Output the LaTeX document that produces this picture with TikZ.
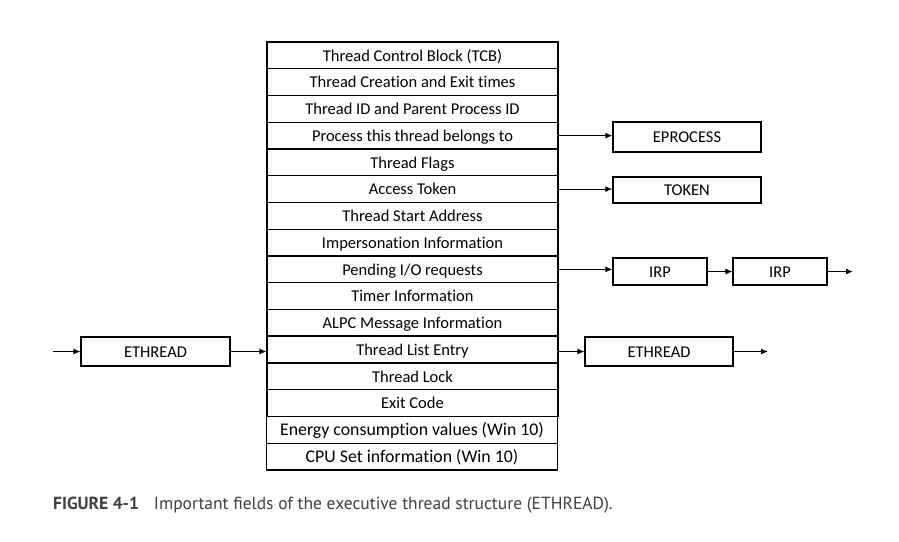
\documentclass[tikz,border=0pt]{standalone}
\usepackage{fontspec}
\setmainfont{Carlito}[Ligatures={NoCommon}]
\newfontfamily\capfont{PT Sans}
\usetikzlibrary{positioning, arrows.meta}

\tikzset{
  field/.style={draw, line width=1.1pt, minimum width=291pt, minimum height=26.75pt, inner sep=0pt,
    text height=11.5pt, text depth=0pt, font=\fontsize{16.5}{18}\selectfont},
  newfield/.style={field, text height=12.2pt, font=\fontsize{17.8}{20}\selectfont},
  obj/.style={draw, line width=1.1pt, inner sep=0pt, text height=11.5pt, text depth=0pt,
    font=\fontsize{16.5}{18}\selectfont},
  ptr/.style={line width=1.1pt, -{Latex[length=7pt,width=6pt]}}
}

\begin{document}
\begin{tikzpicture}[x=1pt, y=-1pt]
\useasboundingbox (0,0) rectangle (899,541);
% ETHREAD fields
\foreach \t [count=\i] in {Thread Control Block (TCB), Thread Creation and Exit times,
  Thread ID and Parent Process ID, Process this thread belongs to, Thread Flags,
  Access Token, Thread Start Address, Impersonation Information, Pending I/O requests,
  Timer Information, ALPC Message Information, Thread List Entry, Thread Lock, Exit Code}
  \node[field] (f\i) at (412.5,{42+26.75*(\i-0.5)}) {\t};
% Win 10 additions
\node[newfield] (f15) at (412,{42+26.75*14.5}) {Energy consumption values (Win 10)};
\node[newfield] (f16) at (412,{42+26.75*15.5}) {CPU Set information (Win 10)};
\draw[line width=2pt] (f12.north west) -- (f12.north east);
% pointed-to objects
\node[obj, minimum width=148pt, minimum height=30pt] (eproc) at (687,137) {EPROCESS};
\node[obj, minimum width=148pt, minimum height=26pt] (token) at (687,190) {TOKEN};
\node[obj, minimum width=94pt, minimum height=27pt] (irpa) at (660,271.5) {IRP};
\node[obj, minimum width=94pt, minimum height=27pt] (irpb) at (780,271.5) {IRP};
\node[obj, minimum width=149pt, minimum height=29pt] (ethl) at (155.5,351.5) {ETHREAD};
\node[obj, minimum width=148pt, minimum height=29pt] (ethr) at (659,351.5) {ETHREAD};
\coordinate (irpend) at (853,271.5);
\coordinate (listin) at (53,351.5);
\coordinate (listout) at (768,351.5);
% pointers
\draw[ptr] (f4.east) -- (f4.east -| eproc.west);
\draw[ptr] (f6.east) -- (f6.east -| token.west);
\draw[ptr] (f9.east) -- (f9.east -| irpa.west);
\draw[ptr] (irpa) -- (irpb);
\draw[ptr] (irpb) -- (irpend);
\draw[ptr] (listin) -- (ethl);
\draw[ptr] (ethl.east) -- (ethl.east -| f12.west);
\draw[ptr] (ethl.east -| f12.east) -- (ethr.west);
\draw[ptr] (ethr) -- (listout);
% caption
\node[anchor=base west, inner sep=0pt, font=\capfont\fontsize{17.5}{20}\selectfont, text=black!75] (cap) at (53,509)
  {\textbf{FIGURE 4-1}\hspace{15pt}Important fields of the executive thread structure (ETHREAD).};
\end{tikzpicture}
\end{document}
